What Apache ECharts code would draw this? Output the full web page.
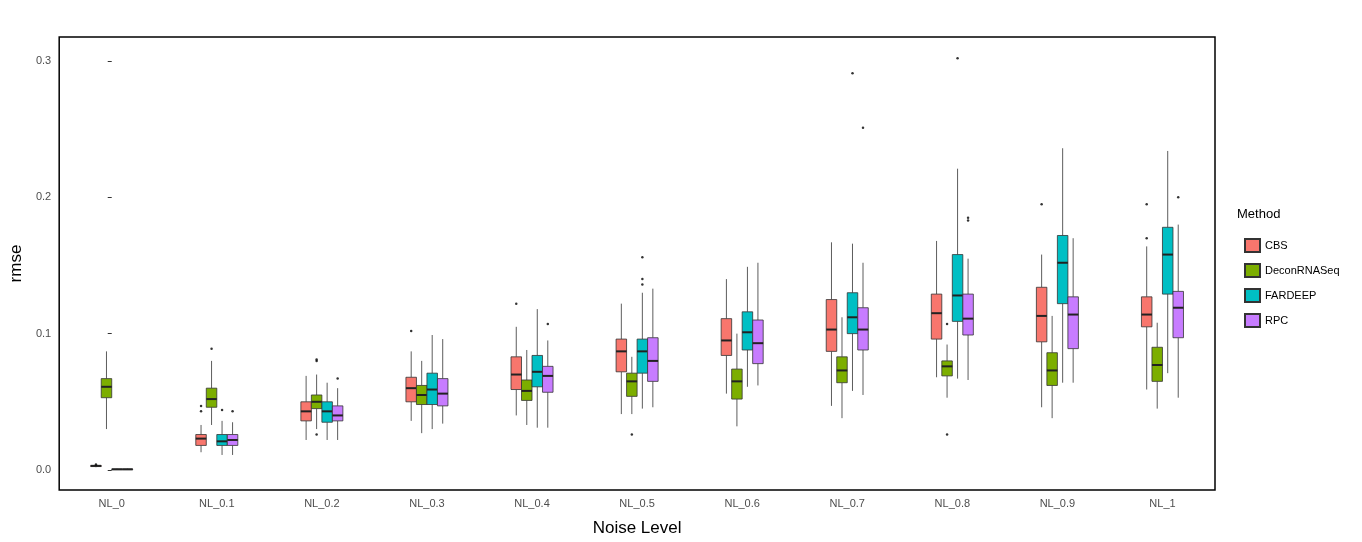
<!DOCTYPE html>
<html>
<head>
<meta charset="utf-8">
<script src="https://cdn.jsdelivr.net/npm/echarts@6/dist/echarts.min.js"></script>
<style>html,body{margin:0;background:#fff}#main{width:1362px;height:542px}</style>
</head>
<body>
<div id="main"></div>
<script>
var categories = ['NL_0','NL_0.1','NL_0.2','NL_0.3','NL_0.4','NL_0.5','NL_0.6','NL_0.7','NL_0.8','NL_0.9','NL_1'];
var methods = ['CBS','DeconRNASeq','FARDEEP','RPC'];
var colors = ['#F8766D','#7CAE00','#00BFC4','#C77CFF'];
var yTicks = [0, 0.1, 0.2, 0.3];

// [min, q1, median, q3, max] per noise level
var cbs = [
  [0.002,0.0025,0.003,0.0033,0.0038],[0.013,0.018,0.023,0.026,0.033],[0.022,0.036,0.043,0.050,0.069],
  [0.036,0.050,0.060,0.068,0.087],[0.040,0.059,0.070,0.083,0.105],[0.041,0.072,0.087,0.096,0.122],
  [0.056,0.084,0.095,0.111,0.140],[0.047,0.087,0.103,0.125,0.167],[0.068,0.096,0.115,0.129,0.168],
  [0.046,0.094,0.113,0.134,0.158],[0.059,0.105,0.114,0.127,0.164]
];
var decon = [
  [0.030,0.053,0.061,0.067,0.087],[0.033,0.046,0.052,0.060,0.080],[0.030,0.045,0.050,0.055,0.070],
  [0.027,0.048,0.055,0.062,0.080],[0.033,0.051,0.058,0.066,0.088],[0.041,0.054,0.065,0.071,0.083],
  [0.032,0.052,0.065,0.074,0.100],[0.038,0.064,0.073,0.083,0.112],[0.053,0.069,0.076,0.080,0.092],
  [0.038,0.062,0.073,0.086,0.113],[0.045,0.065,0.077,0.090,0.108]
];
var fardeep = [
  [0.0002,0.0004,0.0005,0.0006,0.0009],[0.011,0.018,0.021,0.026,0.036],[0.022,0.035,0.043,0.050,0.064],
  [0.030,0.048,0.059,0.071,0.099],[0.031,0.061,0.072,0.084,0.118],[0.045,0.071,0.087,0.096,0.130],
  [0.061,0.088,0.101,0.116,0.149],[0.058,0.100,0.112,0.130,0.166],[0.067,0.109,0.128,0.158,0.221],
  [0.064,0.122,0.152,0.172,0.236],[0.071,0.129,0.158,0.178,0.234]
];
var rpc = [
  [0.0002,0.0004,0.0005,0.0006,0.0009],[0.011,0.018,0.022,0.026,0.035],[0.022,0.036,0.040,0.047,0.060],
  [0.034,0.047,0.056,0.067,0.096],[0.031,0.057,0.069,0.076,0.095],[0.046,0.065,0.080,0.097,0.133],
  [0.062,0.078,0.093,0.110,0.152],[0.055,0.088,0.103,0.119,0.152],[0.066,0.099,0.111,0.129,0.155],
  [0.064,0.089,0.114,0.127,0.170],[0.053,0.097,0.119,0.131,0.180]
];
// outliers: [category index, value]
var cbsOut = [[0,0.004],[1,0.043],[1,0.047],[3,0.102],[4,0.122],[9,0.195],[10,0.195],[10,0.170]];
var deconOut = [[1,0.089],[2,0.080],[2,0.081],[2,0.026],[5,0.026],[8,0.026],[8,0.107]];
var fardeepOut = [[1,0.044],[5,0.136],[5,0.140],[5,0.156],[7,0.291],[8,0.302]];
var rpcOut = [[1,0.043],[2,0.067],[4,0.107],[7,0.251],[8,0.183],[8,0.185],[10,0.200]];

var stats = [cbs, decon, fardeep, rpc];
var outs = [cbsOut, deconOut, fardeepOut, rpcOut];
var offsets = [-0.15, -0.05, 0.05, 0.15];
var boxW = 0.1;

var chart = echarts.init(document.getElementById('main'));

function makeRender(color) {
  return function (params, api) {
    var x = api.value(0);
    var pMin = api.coord([x, api.value(1)]);
    var pQ1 = api.coord([x, api.value(2)]);
    var pMed = api.coord([x, api.value(3)]);
    var pQ3 = api.coord([x, api.value(4)]);
    var pMax = api.coord([x, api.value(5)]);
    var half = (api.coord([x + boxW / 2, 0])[0] - api.coord([x - boxW / 2, 0])[0]) / 2;
    var stroke = '#333';
    return {
      type: 'group',
      children: [
        {type: 'line', shape: {x1: pMin[0], y1: pMin[1], x2: pQ1[0], y2: pQ1[1]}, style: {stroke: stroke, lineWidth: 0.8}},
        {type: 'line', shape: {x1: pQ3[0], y1: pQ3[1], x2: pMax[0], y2: pMax[1]}, style: {stroke: stroke, lineWidth: 0.8}},
        {type: 'rect', shape: {x: pQ3[0] - half, y: pQ3[1], width: half * 2, height: Math.max(pQ1[1] - pQ3[1], 0.5)},
          style: {fill: color, stroke: stroke, lineWidth: 0.8}},
        {type: 'line', shape: {x1: pMed[0] - half, y1: pMed[1], x2: pMed[0] + half, y2: pMed[1]}, style: {stroke: '#222', lineWidth: 2}}
      ]
    };
  };
}

var series = [];
methods.forEach(function (m, k) {
  series.push({
    name: m, type: 'custom', xAxisIndex: 1,
    itemStyle: {color: colors[k], borderColor: '#333', borderWidth: 0.8},
    renderItem: makeRender(colors[k]),
    encode: {x: 0, y: [1, 2, 3, 4, 5]},
    data: stats[k].map(function (s, i) { return [i + offsets[k]].concat(s); })
  });
  series.push({
    name: m, type: 'scatter', xAxisIndex: 1, symbolSize: 2.5,
    itemStyle: {color: '#000'}, silent: true,
    data: outs[k].map(function (o) { return [o[0] + offsets[k], o[1]]; })
  });
});

chart.setOption({
  animation: false,
  textStyle: {fontFamily: 'Liberation Sans, Arial, sans-serif'},
  grid: {left: 52, right: 147, top: 37, bottom: 52, show: true, borderColor: '#000', borderWidth: 1.5, backgroundColor: '#fff'},
  graphic: [{type: 'text', left: 1237, top: 208, style: {text: 'Method', fontSize: 13, fill: '#000', fontFamily: 'Liberation Sans, Arial'}}],
  legend: {
    orient: 'vertical', left: 1239, top: 233, itemWidth: 15, itemHeight: 13, itemGap: 10,
    icon: 'rect', data: methods, textStyle: {fontSize: 11, color: '#000'}
  },
  xAxis: [{
    type: 'category', data: categories,
    name: 'Noise Level', nameLocation: 'middle', nameGap: 30,
    nameTextStyle: {fontSize: 17, color: '#000'},
    axisLine: {show: false},
    axisTick: {alignWithLabel: true, lineStyle: {color: '#333'}, length: 4},
    axisLabel: {color: '#4d4d4d', fontSize: 11, margin: 8}
  }, {
    type: 'value', min: -0.5, max: 10.5, show: false
  }],
  yAxis: {
    type: 'value', min: -0.0147, max: 0.3176,
    name: 'rmse', nameLocation: 'middle', nameGap: 34, nameRotate: 90,
    nameTextStyle: {fontSize: 17, color: '#000'},
    axisLine: {show: false},
    splitLine: {show: false},
    axisTick: {show: true, customValues: yTicks, lineStyle: {color: '#333'}, length: 4},
    axisLabel: {customValues: yTicks, color: '#4d4d4d', fontSize: 11,
      formatter: function (v) { return v.toFixed(1); }}
  },
  series: series
});
</script>
</body>
</html>
